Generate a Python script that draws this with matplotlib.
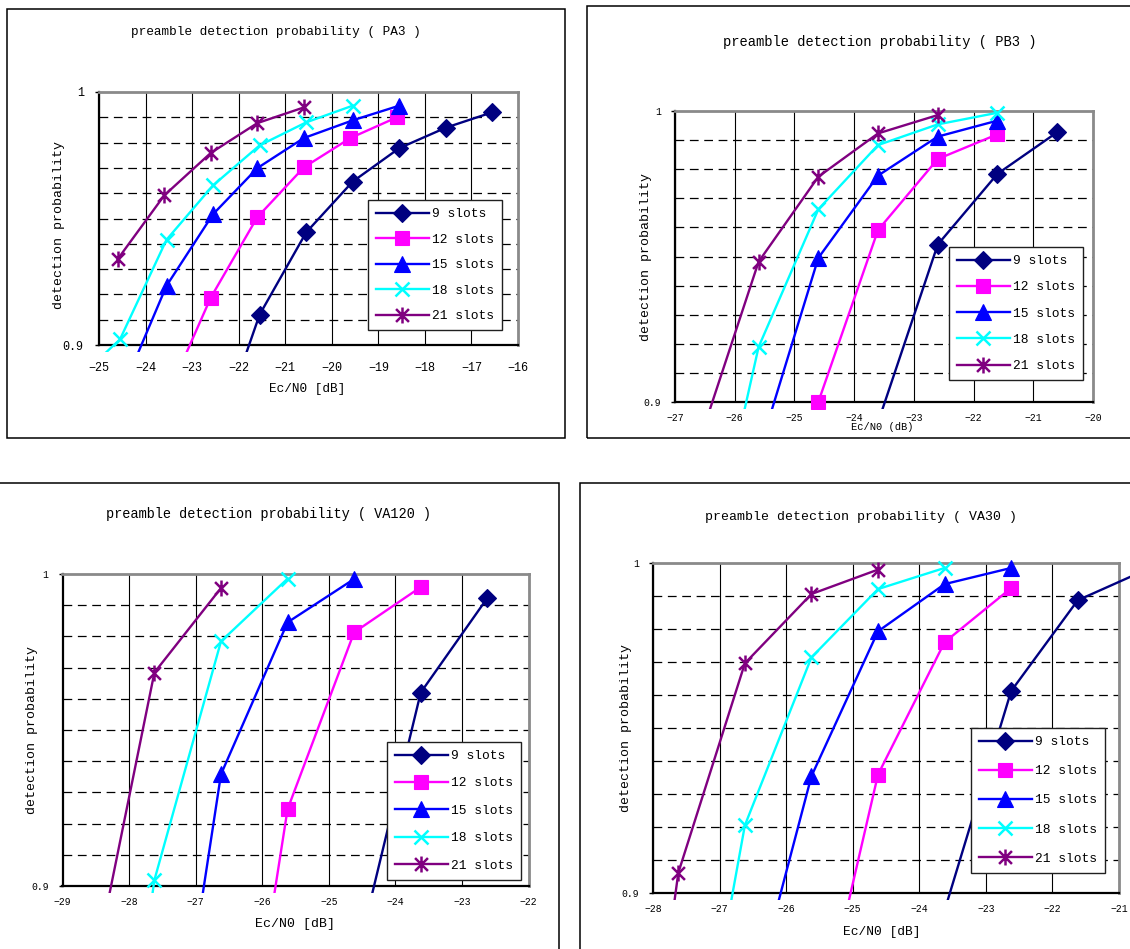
import matplotlib
matplotlib.use('Agg')
import matplotlib.pyplot as plt
from matplotlib.path import Path
from matplotlib.patches import Rectangle
from matplotlib.transforms import Bbox, TransformedBbox

plt.rcParams['font.family'] = ['Liberation Mono', 'DejaVu Sans Mono']

W, H = 1130, 949

slot_labels = ['9 slots', '12 slots', '15 slots', '18 slots', '21 slots']
colors = ['#000080', '#FF00FF', '#0000FF', '#00FFFF', '#800080']

# ---------------- PA3 ----------------
pa3_x = [
    [-22.55, -21.55, -20.55, -19.55, -18.55, -17.55, -16.55],
    [-23.6, -22.6, -21.6, -20.6, -19.6, -18.6],
    [-24.55, -23.55, -22.55, -21.6, -20.6, -19.55, -18.55],
    [-25.55, -24.55, -23.55, -22.55, -21.55, -20.55, -19.55],
    [-24.6, -23.6, -22.6, -21.6, -20.6],
]
pa3_y = [
    [0.859, 0.912, 0.9445, 0.9646, 0.9778, 0.9859, 0.992],
    [0.877, 0.9187, 0.9505, 0.9702, 0.9818, 0.990],
    [0.880, 0.9234, 0.9517, 0.9699, 0.9818, 0.9888, 0.9946],
    [0.885, 0.9022, 0.9416, 0.9631, 0.9789, 0.988, 0.9946],
    [0.9339, 0.9591, 0.9759, 0.9877, 0.9939],
]

# ---------------- PB3 ----------------
pb3_x = [
    [-23.6, -22.6, -21.6, -20.6],
    [-24.6, -23.6, -22.6, -21.6],
    [-25.6, -24.6, -23.6, -22.6, -21.6],
    [-26.6, -25.6, -24.6, -23.6, -22.6, -21.6],
    [-26.6, -25.6, -24.6, -23.6, -22.6],
]
pb3_y = [
    [0.893, 0.9541, 0.9784, 0.9927],
    [0.900, 0.9591, 0.9835, 0.992],
    [0.8825, 0.9495, 0.9778, 0.9912, 0.9967],
    [0.8276, 0.9189, 0.9662, 0.9883, 0.9954, 0.9994],
    [0.886, 0.9482, 0.9774, 0.9923, 0.9986],
]

# ---------------- VA120 ----------------
va120_x = [
    [-24.62, -23.62, -22.62],
    [-26.62, -25.62, -24.62, -23.62],
    [-27.62, -26.62, -25.62, -24.62],
    [-28.62, -27.62, -26.62, -25.62],
    [-28.62, -27.62, -26.62],
]
va120_y = [
    [0.8736, 0.962, 0.9923],
    [0.788, 0.9246, 0.9813, 0.9958],
    [0.796, 0.9358, 0.9845, 0.9984],
    [0.75, 0.9019, 0.9784, 0.9985],
    [0.8633, 0.9684, 0.9955],
]

# ---------------- VA30 ----------------
va30_x = [
    [-23.62, -22.62, -21.62, -20.62],
    [-25.62, -24.62, -23.62, -22.62],
    [-26.62, -25.62, -24.62, -23.62, -22.62],
    [-27.62, -26.62, -25.62, -24.62, -23.62],
    [-28.62, -27.62, -26.62, -25.62, -24.62],
]
va30_y = [
    [0.8947, 0.9612, 0.9887, 0.9977],
    [0.8487, 0.9359, 0.976, 0.9924],
    [0.8587, 0.9354, 0.9793, 0.9936, 0.9985],
    [0.809, 0.9205, 0.9714, 0.9921, 0.9985],
    [0.758, 0.9061, 0.9696, 0.9906, 0.998],
]

ytick_vals = [0.9, 1.0]
ytick_labels = ['0.9', '1']

# star marker (X plus vertical bar), as in Excel
star = Path([(-0.5, -0.5), (0.5, 0.5), (-0.5, 0.5), (0.5, -0.5), (0, -0.62), (0, 0.62)],
            [Path.MOVETO, Path.LINETO, Path.MOVETO, Path.LINETO, Path.MOVETO, Path.LINETO])
markers = ['D', 's', '^', 'x', star]
msizes = [9, 10.5, 11.5, 10.5, 11.5]

fig = plt.figure(figsize=(W / 100, H / 100), dpi=100)


def fx(px):
    return px / W


def fy(py):
    return 1 - py / H


def frame(x0, y0, x1, y1):
    fig.add_artist(Rectangle((fx(x0), fy(y1)), fx(x1) - fx(x0), fy(y0) - fy(y1),
                             transform=fig.transFigure, fill=False, ec='black', lw=1.1))


def panel(box, xmin, xmax, xs, ys, title, title_xy, title_fs, xlabel, xl_xy, xl_fs,
          yl_xy, yl_fs, tick_fs, xpad, ypad, leg_xy, leg_sp, right_extra=0.0):
    left, top, right, bottom = box
    ax = fig.add_axes([fx(left), fy(bottom), fx(right) - fx(left), fy(top) - fy(bottom)])
    ax.set_xlim(xmin, xmax)
    ax.set_ylim(0.9, 1.0)
    xt = list(range(xmin, xmax + 1))
    ax.set_xticks(xt)
    ax.set_xticklabels([str(v).replace('-', '\u2212') for v in xt], fontsize=tick_fs)
    ax.set_yticks(ytick_vals)
    ax.set_yticklabels(ytick_labels, fontsize=tick_fs)
    ax.set_yticks([0.9 + 0.01 * k for k in range(1, 10)], minor=True)
    ax.tick_params(axis='x', which='major', length=0, pad=xpad)
    ax.tick_params(axis='y', which='major', length=3, width=1, direction='out', pad=ypad)
    ax.tick_params(axis='y', which='minor', length=0)
    ax.grid(True, axis='x', which='major', color='black', lw=0.8, ls='-')
    ax.grid(True, axis='y', which='minor', color='black', lw=0.9, ls=(0, (7, 4.5)))
    ax.set_axisbelow(True)
    for s in ('left', 'bottom'):
        ax.spines[s].set_color('black')
        ax.spines[s].set_linewidth(1.6)
    for s in ('top', 'right'):
        ax.spines[s].set_color('#8a8a8a')
        ax.spines[s].set_linewidth(2.0)
    hpx = bottom - top
    wpx = right - left
    clip = TransformedBbox(Bbox([[0, -7.0 / hpx], [1 + right_extra / wpx, 1 + 8.0 / hpx]]),
                           ax.transAxes)
    for i in range(5):
        line, = ax.plot(xs[i], ys[i], color=colors[i], lw=1.7, marker=markers[i],
                        markersize=msizes[i], markerfacecolor=colors[i],
                        markeredgecolor=colors[i],
                        markeredgewidth=1.8 if i >= 3 else 0.8,
                        label=slot_labels[i], zorder=3)
        line.set_clip_box(clip)
    leg = ax.legend(loc='upper left', bbox_to_anchor=(fx(leg_xy[0]), fy(leg_xy[1])),
                    bbox_transform=fig.transFigure, fontsize=9.3, frameon=True,
                    fancybox=False, framealpha=1, edgecolor='#202020',
                    handlelength=4.1, handletextpad=0.25, labelspacing=leg_sp,
                    borderpad=0.62, borderaxespad=0)
    leg.get_frame().set_linewidth(1.0)
    leg.set_zorder(5)
    fig.text(fx(title_xy[0]), fy(title_xy[1]), title, ha='center', va='center',
             fontsize=title_fs)
    fig.text(fx(xl_xy[0]), fy(xl_xy[1]), xlabel, ha='center', va='center', fontsize=xl_fs)
    fig.text(fx(yl_xy[0]), fy(yl_xy[1]), 'detection probability', ha='center',
             va='center', rotation=90, fontsize=yl_fs)
    return ax


# frames of the four chart areas
frame(7, 9, 565, 438)
frame(587, 6, 1140, 438)
frame(-10, 483, 559, 960)
frame(580, 483, 1140, 960)

panel((99, 92, 518, 345), -25, -16, pa3_x, pa3_y,
      'preamble detection probability ( PA3 )', (276, 32), 9.2,
      'Ec/N0 [dB]', (307, 389), 9.2, (59, 225), 9.5, 8.5, 12, 8,
      (368, 200), 1.05)

panel((675, 111, 1093, 402), -27, -20, pb3_x, pb3_y,
      'preamble detection probability ( PB3 )', (880, 42), 9.9,
      'Ec/N0 (dB)', (882, 427), 7.5, (646, 257), 9.5, 7, 8, 7,
      (949, 247), 1.1)

panel((62.5, 574, 528.6, 886), -29, -22, va120_x, va120_y,
      'preamble detection probability ( VA120 )', (269, 514), 9.8,
      'Ec/N0 [dB]', (295, 924), 9.5, (32, 730), 9.5, 7, 8, 7,
      (387, 742), 1.19)

panel((653, 563, 1119, 893), -28, -21, va30_x, va30_y,
      'preamble detection probability ( VA30 )', (861, 517), 9.5,
      'Ec/N0 [dB]', (882, 932), 9.3, (626, 728), 9.5, 7, 8, 7,
      (971, 728), 1.33, right_extra=40)

fig.savefig('out.png', dpi=100)
